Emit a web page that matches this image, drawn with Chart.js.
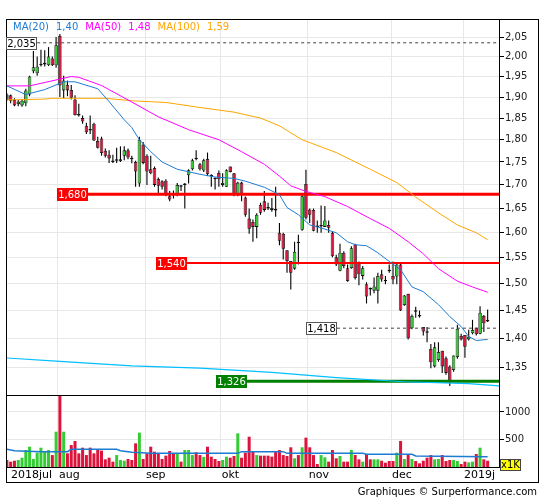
<!DOCTYPE html>
<html>
<head>
<meta charset="utf-8">
<script src="https://cdn.jsdelivr.net/npm/chart.js@4.4.0/dist/chart.umd.min.js"></script>
<style>
  body { margin: 0; background: #fff; font-family: 'DejaVu Sans', sans-serif; }
  canvas { position: absolute; left: 0; top: 0; }
  #frame { position: absolute; left: 6px; top: 19px; width: 533px; height: 464px; border: 1px solid #000; box-sizing: border-box; }
  #legend { position: absolute; left: 13px; top: 21px; display: flex; gap: 7px; font-size: 10px; line-height: 12px; white-space: nowrap; }
  #unit { position: absolute; left: 500px; top: 459px; width: 21px; height: 12px; background: #ffff00; border: 1px solid #444; box-sizing: border-box; font-size: 10px; line-height: 10px; text-align: center; }
  #credit { position: absolute; right: 8px; top: 485px; font-size: 10px; line-height: 13px; color: #000; }
</style>
</head>
<body>
<div id="frame"></div>
<canvas id="price" width="545" height="500"></canvas>
<canvas id="volume" width="545" height="500"></canvas>
<div id="legend"></div>
<div id="unit">x1K</div>
<div id="credit">Graphiques © Surperformance.com</div>
<script>
// trading days shown on the chart
const days = [
  '2018-07-12','2018-07-13','2018-07-16','2018-07-17','2018-07-18','2018-07-19','2018-07-20','2018-07-23','2018-07-24','2018-07-25','2018-07-26','2018-07-27','2018-07-30','2018-07-31',
  '2018-08-01','2018-08-02','2018-08-03','2018-08-06','2018-08-07','2018-08-08','2018-08-09','2018-08-10','2018-08-13','2018-08-14','2018-08-15','2018-08-16','2018-08-17','2018-08-20','2018-08-21','2018-08-22','2018-08-23','2018-08-24','2018-08-27','2018-08-28','2018-08-29','2018-08-30','2018-08-31',
  '2018-09-03','2018-09-04','2018-09-05','2018-09-06','2018-09-07','2018-09-10','2018-09-11','2018-09-12','2018-09-13','2018-09-14','2018-09-17','2018-09-18','2018-09-19','2018-09-20','2018-09-21','2018-09-24','2018-09-25','2018-09-26','2018-09-27','2018-09-28',
  '2018-10-01','2018-10-02','2018-10-03','2018-10-04','2018-10-05','2018-10-08','2018-10-09','2018-10-10','2018-10-11','2018-10-12','2018-10-15','2018-10-16','2018-10-17','2018-10-18','2018-10-19','2018-10-22','2018-10-23','2018-10-24','2018-10-25','2018-10-26','2018-10-29','2018-10-30','2018-10-31',
  '2018-11-01','2018-11-02','2018-11-05','2018-11-06','2018-11-07','2018-11-08','2018-11-09','2018-11-12','2018-11-13','2018-11-14','2018-11-15','2018-11-16','2018-11-19','2018-11-20','2018-11-21','2018-11-22','2018-11-23','2018-11-26','2018-11-27','2018-11-28','2018-11-29','2018-11-30',
  '2018-12-03','2018-12-04','2018-12-05','2018-12-06','2018-12-07','2018-12-10','2018-12-11','2018-12-12','2018-12-13','2018-12-14','2018-12-17','2018-12-18','2018-12-19','2018-12-20','2018-12-21','2018-12-24','2018-12-27','2018-12-28','2018-12-31',
  '2019-01-02','2019-01-03','2019-01-04','2019-01-07','2019-01-08','2019-01-09','2019-01-10'
]
const monthLabels = ['2018jul', 'aug', 'sep', 'okt', 'nov', 'dec', '2019j']

const open = [1.906,1.904,1.893,1.883,1.880,1.885,1.906,1.963,1.958,1.978,
  1.980,1.978,1.995,1.978,2.053,1.916,1.930,1.917,1.894,1.859,
  1.850,1.832,1.822,1.837,1.797,1.803,1.775,1.766,1.752,1.753,
  1.752,1.764,1.776,1.758,1.750,1.703,1.789,1.764,1.734,1.737,
  1.713,1.708,1.709,1.676,1.680,1.679,1.697,1.700,1.721,1.734,
  1.757,1.745,1.731,1.757,1.720,1.713,1.726,1.700,1.696,1.740,
  1.725,1.679,1.705,1.673,1.629,1.622,1.612,1.658,1.665,1.651,
  1.651,1.648,1.600,1.598,1.565,1.544,1.529,1.580,1.606,1.702,
  1.648,1.647,1.613,1.613,1.612,1.616,1.600,1.551,1.525,1.560,
  1.530,1.530,1.576,1.540,1.515,1.499,1.490,1.487,1.487,1.518,
  1.506,1.526,1.515,1.514,1.537,1.460,1.481,1.418,1.449,1.440,
  1.420,1.411,1.381,1.351,1.362,1.378,1.365,1.351,1.345,1.367,
  1.404,1.406,1.398,1.409,1.419,1.408,1.440,1.433]
const high = [1.909,1.906,1.897,1.893,1.895,1.920,1.952,2.014,2.000,2.017,
  2.016,2.024,2.000,2.050,2.058,1.952,1.940,1.929,1.904,1.884,
  1.856,1.839,1.856,1.839,1.807,1.807,1.780,1.776,1.766,1.782,
  1.785,1.785,1.780,1.764,1.753,1.807,1.795,1.767,1.764,1.740,
  1.716,1.710,1.712,1.687,1.688,1.704,1.700,1.704,1.734,1.757,
  1.776,1.748,1.757,1.771,1.723,1.716,1.731,1.725,1.734,1.740,
  1.726,1.707,1.707,1.675,1.650,1.627,1.640,1.662,1.687,1.662,
  1.672,1.696,1.620,1.600,1.565,1.544,1.582,1.596,1.679,1.733,
  1.650,1.650,1.625,1.656,1.655,1.625,1.603,1.556,1.578,1.563,
  1.537,1.573,1.578,1.543,1.534,1.503,1.493,1.512,1.521,1.527,
  1.515,1.537,1.543,1.539,1.539,1.479,1.481,1.443,1.457,1.450,
  1.420,1.420,1.390,1.393,1.393,1.378,1.368,1.353,1.370,1.424,
  1.408,1.406,1.415,1.433,1.419,1.458,1.442,1.452]
const low = [1.891,1.885,1.878,1.878,1.877,1.878,1.902,1.958,1.952,1.975,
  1.975,1.976,1.976,1.972,1.900,1.897,1.902,1.894,1.856,1.854,
  1.837,1.813,1.813,1.797,1.780,1.764,1.760,1.748,1.748,1.748,
  1.750,1.754,1.756,1.747,1.696,1.696,1.745,1.700,1.723,1.696,
  1.679,1.690,1.676,1.665,1.671,1.676,1.687,1.650,1.703,1.731,
  1.754,1.731,1.728,1.719,1.696,1.690,1.696,1.696,1.696,1.727,
  1.676,1.676,1.665,1.633,1.598,1.582,1.589,1.637,1.643,1.647,
  1.643,1.633,1.575,1.547,1.521,1.489,1.527,1.537,1.604,1.627,
  1.620,1.603,1.600,1.600,1.612,1.600,1.551,1.534,1.524,1.530,
  1.504,1.529,1.508,1.497,1.508,1.463,1.478,1.482,1.463,1.504,
  1.499,1.521,1.499,1.499,1.449,1.459,1.398,1.416,1.437,1.437,
  1.405,1.393,1.348,1.349,1.359,1.340,1.337,1.318,1.342,1.364,
  1.396,1.366,1.396,1.407,1.405,1.407,1.411,1.429]
const close = [1.893,1.891,1.880,1.889,1.891,1.916,1.950,1.973,1.975,1.980,
  1.984,2.000,1.978,2.029,1.928,1.940,1.916,1.898,1.857,1.856,
  1.842,1.817,1.821,1.798,1.782,1.770,1.764,1.758,1.750,1.754,
  1.756,1.776,1.760,1.756,1.729,1.800,1.748,1.729,1.725,1.700,
  1.698,1.696,1.679,1.669,1.678,1.700,1.696,1.703,1.732,1.754,
  1.756,1.734,1.754,1.723,1.718,1.712,1.712,1.704,1.732,1.728,
  1.679,1.705,1.679,1.637,1.608,1.612,1.637,1.641,1.647,1.650,
  1.647,1.646,1.584,1.568,1.544,1.521,1.562,1.579,1.676,1.631,
  1.637,1.604,1.612,1.614,1.625,1.610,1.553,1.537,1.560,1.534,
  1.505,1.569,1.511,1.518,1.530,1.476,1.489,1.495,1.515,1.508,
  1.505,1.524,1.508,1.537,1.450,1.478,1.400,1.440,1.448,1.439,
  1.412,1.410,1.358,1.384,1.376,1.351,1.340,1.326,1.370,1.417,
  1.398,1.385,1.403,1.415,1.407,1.446,1.427,1.430]

// volume in thousands
const volume = [127,97,114,127,169,308,369,145,260,351,
  291,308,217,641,1308,641,248,399,473,248,
  351,217,351,248,321,297,139,169,97,217,
  127,114,145,127,430,624,145,248,369,278,
  248,145,206,291,248,248,97,308,308,217,
  267,217,182,369,188,145,109,127,188,169,
  200,612,169,260,550,291,217,206,206,206,
  188,278,308,217,200,358,158,217,358,533,
  358,217,54,217,176,97,308,158,200,97,
  97,308,217,139,97,236,139,139,139,114,
  78,109,109,260,473,145,236,145,109,67,
  114,169,217,139,145,217,109,127,127,109,
  54,97,85,97,236,351,139,114]

// moving averages: [day index, value]
const ma20 = [[0,1.927],[5,1.906],[10,1.918],[15,1.937],[18,1.937],[24,1.920],[27,1.889],[31,1.846],[33,1.828],[35,1.800],
  [38,1.773],[41,1.750],[45,1.734],[51,1.723],[55,1.717],[60,1.714],[63,1.708],[68,1.695],[72,1.679],[74,1.652],
  [77,1.637],[80,1.616],[83,1.610],[87,1.600],[90,1.582],[92,1.576],[95,1.574],[98,1.560],[101,1.543],[104,1.527],
  [107,1.494],[110,1.485],[114,1.461],[117,1.439],[120,1.421],[122,1.403],[124,1.396],[127,1.398]]
const ma50 = [[0,1.927],[6,1.927],[17,1.950],[19,1.948],[25,1.928],[32,1.893],[40,1.853],[48,1.823],[56,1.800],[62,1.773],
  [68,1.745],[72,1.719],[75,1.698],[79,1.686],[84,1.675],[90,1.654],[96,1.629],[101,1.609],[106,1.582],[110,1.558],
  [114,1.529],[119,1.505],[123,1.494],[127,1.484]]
const ma100 = [[0,1.893],[10,1.895],[12,1.897],[26,1.897],[33,1.891],[42,1.887],[51,1.875],[60,1.864],[67,1.850],[72,1.832],
  [78,1.800],[87,1.771],[96,1.734],[103,1.705],[108,1.674],[114,1.641],[119,1.616],[124,1.600],[127,1.586]]
const longTrend = [[0,1.3655],[14,1.3595],[33,1.352],[51,1.348],[70,1.341],[87,1.332],[105,1.325],[122,1.322],[130,1.318]]
const volumeMa = [[0,322],[2,296],[9,278],[16,278],[17,322],[29,322],[30,296],[33,267],[38,249],[61,249],
  [62,278],[73,278],[74,249],[94,249],[95,231],[107,231],[108,200],[120,192],[127,187]]

// horizontal levels and the day each one starts from
const levelPrices = [2.035, 1.680, 1.540, 1.418, 1.326]
const levelStart = [8, 21.4, 47.6, 87.2, 63.4]

const priceTicks = [1.35,1.40,1.45,1.50,1.55,1.60,1.65,1.70,1.75,1.80,1.85,1.90,1.95,2.00,2.05]
const volumeTicks = [500, 1000]

const levelStyle = [
  { line: '#444', width: 1, dash: [3, 3], box: '#fff', text: '#000', frame: '#555' },
  { line: '#ff0000', width: 3, dash: [], box: '#ff0000', text: '#fff' },
  { line: '#ff0000', width: 2, dash: [], box: '#ff0000', text: '#fff' },
  { line: '#444', width: 1, dash: [3, 3], box: '#fff', text: '#000', frame: '#555' },
  { line: '#008000', width: 3, dash: [], box: '#008000', text: '#fff' }
]
const maStyle = [
  { name: 'MA(20)', data: ma20, color: '#1e7bd2' },
  { name: 'MA(50)', data: ma50, color: '#ff00ff' },
  { name: 'MA(100)', data: ma100, color: '#ffa500' }
]

const GREEN = '#33cc33'
const RED = '#dc143c'
const GRID = '#e8e8e8'
const X_MIN = 0.03
const X_MAX = 130
const comma = (v, d) => v.toFixed(d).replace('.', ',')

// month boundaries come from the dates
const monthStarts = []
days.forEach((d, i) => {
  if (i === 0 || d.slice(0, 7) !== days[i - 1].slice(0, 7)) monthStarts.push(i)
})
const boundaries = monthStarts.slice(1).map(i => i - 0.5)
const firstLabelAt = 0.8
const xTickValues = [firstLabelAt, ...boundaries]

const up = days.map((d, i) => close[i] >= open[i])

// legend
const legend = document.getElementById('legend')
maStyle.forEach(m => {
  const last = m.data[m.data.length - 1][1]
  for (const t of [m.name, comma(last, 2)]) {
    const s = document.createElement('span')
    s.textContent = t
    s.style.color = m.color
    legend.appendChild(s)
  }
})

Chart.defaults.font.family = "'DejaVu Sans', sans-serif"
Chart.defaults.font.size = 10
Chart.defaults.color = '#222'

const levelLabels = {
  id: 'levelLabels',
  afterDatasetsDraw (chart) {
    const { ctx, scales: { x, y } } = chart
    ctx.save()
    ctx.font = "10px 'DejaVu Sans'"
    ctx.textAlign = 'center'
    ctx.textBaseline = 'middle'
    levelPrices.forEach((v, k) => {
      const st = levelStyle[k]
      const right = Math.round(x.getPixelForValue(levelStart[k]))
      const mid = Math.round(y.getPixelForValue(v))
      const w = 31
      const h = 13
      const left = right - w
      const top = mid - 6
      ctx.fillStyle = st.box
      ctx.fillRect(left, top, w, h)
      if (st.frame) {
        ctx.strokeStyle = st.frame
        ctx.lineWidth = 1
        ctx.strokeRect(left + 0.5, top + 0.5, w - 1, h - 1)
      }
      ctx.fillStyle = st.text
      ctx.fillText(comma(v, 3), left + w / 2, top + h / 2 + 0.5)
    })
    ctx.restore()
  }
}

const lineSet = (points, color, width, extra) => Object.assign({
  type: 'line',
  data: points.map(([x, y]) => ({ x, y })),
  borderColor: color,
  borderWidth: width,
  pointRadius: 0,
  tension: 0,
  order: 0
}, extra || {})

const priceSets = [
  {
    type: 'bar',
    data: days.map((d, i) => ({ x: i, y: [low[i], high[i]] })),
    backgroundColor: '#000',
    barThickness: 1.1,
    grouped: false,
    inflateAmount: 0,
    order: 3
  },
  {
    type: 'bar',
    data: days.map((d, i) => ({ x: i, y: [open[i], close[i]] })),
    backgroundColor: up.map(u => u ? GREEN : RED),
    borderColor: '#111',
    borderWidth: 0.8,
    borderSkipped: false,
    barThickness: 3.5,
    minBarLength: 1.5,
    grouped: false,
    inflateAmount: 0,
    order: 2
  },
  lineSet(longTrend, '#00bfff', 1.2),
  ...maStyle.map(m => lineSet(m.data, m.color, 1)),
  ...levelPrices.map((v, k) => lineSet([[levelStart[k], v], [X_MAX, v]], levelStyle[k].line,
    levelStyle[k].width, { borderDash: levelStyle[k].dash }))
]

new Chart(document.getElementById('price'), {
  type: 'bar',
  data: { datasets: priceSets },
  plugins: [levelLabels],
  options: {
    responsive: false,
    animation: false,
    layout: { padding: { left: 7, top: 20, right: 8, bottom: 105 } },
    plugins: { legend: { display: false }, tooltip: { enabled: false } },
    scales: {
      x: {
        type: 'linear',
        min: X_MIN,
        max: X_MAX,
        offset: false,
        grid: { color: GRID, offset: false, drawTicks: false },
        border: { display: true, color: '#000' },
        ticks: { display: false },
        afterBuildTicks: s => { s.ticks = boundaries.map(v => ({ value: v })) },
        afterFit: s => { s.height = 0 }
      },
      y: {
        type: 'logarithmic',
        position: 'right',
        min: 1.303,
        max: 2.0946,
        grid: { color: GRID, tickColor: '#000', tickLength: 5 },
        border: { display: true, color: '#000' },
        ticks: { padding: 1, color: '#222', callback: v => comma(v, 2) },
        afterBuildTicks: s => { s.ticks = priceTicks.map(v => ({ value: v })) },
        afterFit: s => { s.width = 38 }
      }
    }
  }
})

new Chart(document.getElementById('volume'), {
  type: 'bar',
  data: {
    datasets: [
      {
        type: 'bar',
        data: days.map((d, i) => ({ x: i, y: volume[i] })),
        backgroundColor: up.map(u => u ? GREEN : RED),
        barThickness: 3,
        inflateAmount: 0,
        order: 2
      },
      lineSet(volumeMa, '#1e7bd2', 1.4)
    ]
  },
  options: {
    responsive: false,
    animation: false,
    layout: { padding: { left: 7, top: 396, right: 8, bottom: 18 } },
    plugins: { legend: { display: false }, tooltip: { enabled: false } },
    scales: {
      x: {
        type: 'linear',
        min: X_MIN,
        max: X_MAX,
        offset: false,
        grid: {
          offset: false,
          drawTicks: false,
          color: c => (c.tick && c.tick.value === firstLabelAt) ? 'rgba(0,0,0,0)' : GRID
        },
        border: { display: true, color: '#000' },
        ticks: {
          align: 'start',
          labelOffset: 1,
          padding: 2,
          autoSkip: false,
          maxRotation: 0,
          color: '#000',
          font: { size: 11 },
          callback: (v, i) => monthLabels[i]
        },
        afterBuildTicks: s => { s.ticks = xTickValues.map(v => ({ value: v })) },
        afterFit: s => { s.height = 15 }
      },
      y: {
        position: 'right',
        min: 0,
        max: 1290,
        grid: { color: GRID, tickColor: '#000', tickLength: 5 },
        border: { display: true, color: '#000' },
        ticks: { padding: 1, color: '#222', callback: v => String(v) },
        afterBuildTicks: s => { s.ticks = volumeTicks.map(v => ({ value: v })) },
        afterFit: s => { s.width = 38 }
      }
    }
  }
})
</script>
</body>
</html>
